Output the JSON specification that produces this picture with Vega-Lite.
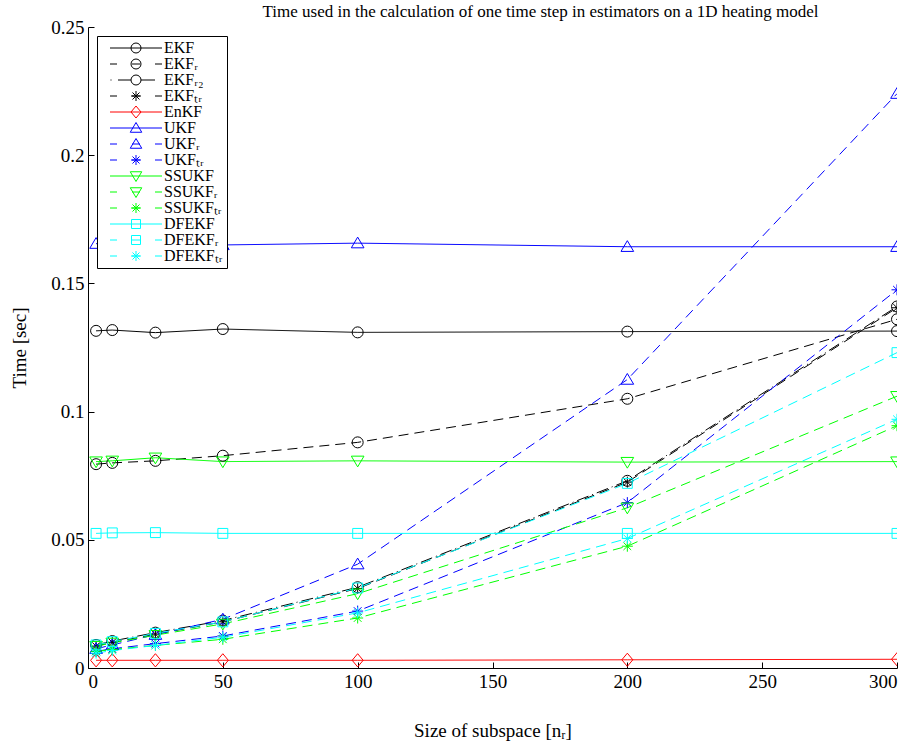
{
  "$schema": "https://vega.github.io/schema/vega-lite/v6.json",
  "autosize": "none",
  "width": 809,
  "height": 641,
  "padding": {"left": 88, "top": 27, "right": 15, "bottom": 74},
  "background": "white",
  "title": {
    "text": "Time used in the calculation of one time step in estimators on a 1D heating model",
    "font": "Liberation Serif",
    "fontSize": 17,
    "fontWeight": "normal",
    "color": "black",
    "anchor": "middle",
    "dx": 48,
    "offset": -3
  },
  "config": {
    "view": {"stroke": "transparent"},
    "axis": {
      "grid": false,
      "labelFont": "Liberation Serif",
      "labelFontSize": 19,
      "labelColor": "black",
      "titleFont": "Liberation Serif",
      "titleFontSize": 19,
      "titleFontWeight": "normal",
      "titleColor": "black",
      "domainColor": "black",
      "tickColor": "black",
      "tickSize": -6,
      "labelPadding": 10
    },
    "legend": {
      "symbolOpacity": 1,
      "symbolStrokeWidth": 1,
      "symbolSize": 100,
      "symbolOffset": 27,
      "labelOffset": 20,
      "labelFont": "Liberation Serif",
      "labelFontSize": 16,
      "labelColor": "black",
      "strokeColor": "black",
      "fillColor": "white",
      "padding": 4,
      "rowPadding": 0,
      "orient": "top-left",
      "offset": 9,
      "cornerRadius": 0
    }
  },
  "data": {
    "values": [
      {"series": "EKF", "x": 3, "y": 0.1315}, {"series": "EKF", "x": 9, "y": 0.1318}, {"series": "EKF", "x": 25, "y": 0.1308}, {"series": "EKF", "x": 50, "y": 0.1322}, {"series": "EKF", "x": 100, "y": 0.1309}, {"series": "EKF", "x": 200, "y": 0.1312}, {"series": "EKF", "x": 300, "y": 0.1314},
      {"series": "EKFᵣ", "x": 3, "y": 0.0795}, {"series": "EKFᵣ", "x": 9, "y": 0.0800}, {"series": "EKFᵣ", "x": 25, "y": 0.0808}, {"series": "EKFᵣ", "x": 50, "y": 0.0828}, {"series": "EKFᵣ", "x": 100, "y": 0.0880}, {"series": "EKFᵣ", "x": 200, "y": 0.1050}, {"series": "EKFᵣ", "x": 300, "y": 0.1360},
      {"series": "EKFᵣ₂", "x": 3, "y": 0.0090}, {"series": "EKFᵣ₂", "x": 9, "y": 0.0105}, {"series": "EKFᵣ₂", "x": 25, "y": 0.0138}, {"series": "EKFᵣ₂", "x": 50, "y": 0.0185}, {"series": "EKFᵣ₂", "x": 100, "y": 0.0315}, {"series": "EKFᵣ₂", "x": 200, "y": 0.0730}, {"series": "EKFᵣ₂", "x": 300, "y": 0.1410},
      {"series": "EKFₜᵣ", "x": 3, "y": 0.0085}, {"series": "EKFₜᵣ", "x": 9, "y": 0.0100}, {"series": "EKFₜᵣ", "x": 25, "y": 0.0132}, {"series": "EKFₜᵣ", "x": 50, "y": 0.0180}, {"series": "EKFₜᵣ", "x": 100, "y": 0.0310}, {"series": "EKFₜᵣ", "x": 200, "y": 0.0725}, {"series": "EKFₜᵣ", "x": 300, "y": 0.1405},
      {"series": "EnKF", "x": 3, "y": 0.0030}, {"series": "EnKF", "x": 9, "y": 0.0030}, {"series": "EnKF", "x": 25, "y": 0.0030}, {"series": "EnKF", "x": 50, "y": 0.0030}, {"series": "EnKF", "x": 100, "y": 0.0030}, {"series": "EnKF", "x": 200, "y": 0.0032}, {"series": "EnKF", "x": 300, "y": 0.0034},
      {"series": "UKF", "x": 3, "y": 0.1655}, {"series": "UKF", "x": 9, "y": 0.1656}, {"series": "UKF", "x": 25, "y": 0.1652}, {"series": "UKF", "x": 50, "y": 0.1650}, {"series": "UKF", "x": 100, "y": 0.1657}, {"series": "UKF", "x": 200, "y": 0.1643}, {"series": "UKF", "x": 300, "y": 0.1643},
      {"series": "UKFᵣ", "x": 3, "y": 0.0075}, {"series": "UKFᵣ", "x": 9, "y": 0.0090}, {"series": "UKFᵣ", "x": 25, "y": 0.0130}, {"series": "UKFᵣ", "x": 50, "y": 0.0190}, {"series": "UKFᵣ", "x": 100, "y": 0.0405}, {"series": "UKFᵣ", "x": 200, "y": 0.1125}, {"series": "UKFᵣ", "x": 300, "y": 0.2240},
      {"series": "UKFₜᵣ", "x": 3, "y": 0.0065}, {"series": "UKFₜᵣ", "x": 9, "y": 0.0075}, {"series": "UKFₜᵣ", "x": 25, "y": 0.0095}, {"series": "UKFₜᵣ", "x": 50, "y": 0.0125}, {"series": "UKFₜᵣ", "x": 100, "y": 0.0222}, {"series": "UKFₜᵣ", "x": 200, "y": 0.0645}, {"series": "UKFₜᵣ", "x": 300, "y": 0.1475},
      {"series": "SSUKF", "x": 3, "y": 0.0805}, {"series": "SSUKF", "x": 9, "y": 0.0808}, {"series": "SSUKF", "x": 25, "y": 0.0820}, {"series": "SSUKF", "x": 50, "y": 0.0805}, {"series": "SSUKF", "x": 100, "y": 0.0808}, {"series": "SSUKF", "x": 200, "y": 0.0803}, {"series": "SSUKF", "x": 300, "y": 0.0805},
      {"series": "SSUKFᵣ", "x": 3, "y": 0.0085}, {"series": "SSUKFᵣ", "x": 9, "y": 0.0098}, {"series": "SSUKFᵣ", "x": 25, "y": 0.0128}, {"series": "SSUKFᵣ", "x": 50, "y": 0.0172}, {"series": "SSUKFᵣ", "x": 100, "y": 0.0290}, {"series": "SSUKFᵣ", "x": 200, "y": 0.0625}, {"series": "SSUKFᵣ", "x": 300, "y": 0.1060},
      {"series": "SSUKFₜᵣ", "x": 3, "y": 0.0065}, {"series": "SSUKFₜᵣ", "x": 9, "y": 0.0072}, {"series": "SSUKFₜᵣ", "x": 25, "y": 0.0088}, {"series": "SSUKFₜᵣ", "x": 50, "y": 0.0112}, {"series": "SSUKFₜᵣ", "x": 100, "y": 0.0195}, {"series": "SSUKFₜᵣ", "x": 200, "y": 0.0475}, {"series": "SSUKFₜᵣ", "x": 300, "y": 0.0945},
      {"series": "DFEKF", "x": 3, "y": 0.0525}, {"series": "DFEKF", "x": 9, "y": 0.0527}, {"series": "DFEKF", "x": 25, "y": 0.0528}, {"series": "DFEKF", "x": 50, "y": 0.0525}, {"series": "DFEKF", "x": 100, "y": 0.0525}, {"series": "DFEKF", "x": 200, "y": 0.0525}, {"series": "DFEKF", "x": 300, "y": 0.0525},
      {"series": "DFEKFᵣ", "x": 3, "y": 0.0090}, {"series": "DFEKFᵣ", "x": 9, "y": 0.0103}, {"series": "DFEKFᵣ", "x": 25, "y": 0.0135}, {"series": "DFEKFᵣ", "x": 50, "y": 0.0180}, {"series": "DFEKFᵣ", "x": 100, "y": 0.0312}, {"series": "DFEKFᵣ", "x": 200, "y": 0.0720}, {"series": "DFEKFᵣ", "x": 300, "y": 0.1230},
      {"series": "DFEKFₜᵣ", "x": 3, "y": 0.0058}, {"series": "DFEKFₜᵣ", "x": 9, "y": 0.0068}, {"series": "DFEKFₜᵣ", "x": 25, "y": 0.0088}, {"series": "DFEKFₜᵣ", "x": 50, "y": 0.0120}, {"series": "DFEKFₜᵣ", "x": 100, "y": 0.0215}, {"series": "DFEKFₜᵣ", "x": 200, "y": 0.0505}, {"series": "DFEKFₜᵣ", "x": 300, "y": 0.0970}
    ]
  },
  "layer": [
    {
      "mark": {"type": "line", "strokeWidth": 1, "clip": true},
      "encoding": {
        "x": {"field": "x", "type": "quantitative", "scale": {"domain": [0, 300], "nice": false, "zero": false},
              "axis": {"values": [0, 50, 100, 150, 200, 250, 300], "title": "Size of subspace [nᵣ]", "titlePadding": 30, "orient": "bottom"}},
        "y": {"field": "y", "type": "quantitative", "scale": {"domain": [0, 0.25], "nice": false},
              "axis": {"values": [0, 0.05, 0.1, 0.15, 0.2, 0.25], "format": "~g", "title": "Time [sec]", "titlePadding": 21, "orient": "left"}},
        "detail": {"field": "series"},
        "color": {"field": "series", "type": "nominal", "legend": null,
                  "scale": {"domain": ["EKF", "EKFᵣ", "EKFᵣ₂", "EKFₜᵣ", "EnKF", "UKF", "UKFᵣ", "UKFₜᵣ", "SSUKF", "SSUKFᵣ", "SSUKFₜᵣ", "DFEKF", "DFEKFᵣ", "DFEKFₜᵣ"],
                            "range": ["#000000", "#000000", "#000000", "#000000", "#ff0000", "#0000ff", "#0000ff", "#0000ff", "#00ff00", "#00ff00", "#00ff00", "#00ffff", "#00ffff", "#00ffff"]}},
        "strokeDash": {"field": "series", "type": "nominal", "legend": null,
                  "scale": {"domain": ["EKF", "EKFᵣ", "EKFᵣ₂", "EKFₜᵣ", "EnKF", "UKF", "UKFᵣ", "UKFₜᵣ", "SSUKF", "SSUKFᵣ", "SSUKFₜᵣ", "DFEKF", "DFEKFᵣ", "DFEKFₜᵣ"],
                            "range": [[1, 0], [10, 6], [12, 4, 1, 4], [10, 6], [1, 0], [1, 0], [10, 6], [10, 6], [1, 0], [10, 6], [10, 6], [1, 0], [10, 6], [10, 6]]}}
      }
    },
    {
      "mark": {"type": "point", "filled": false, "strokeWidth": 1, "size": 121, "opacity": 1, "clip": true},
      "encoding": {
        "x": {"field": "x", "type": "quantitative", "axis": {"orient": "top", "labels": false, "ticks": false, "domain": false, "title": null}},
        "y": {"field": "y", "type": "quantitative", "axis": {"orient": "right", "labels": false, "ticks": false, "domain": false, "title": null}},
        "color": {"field": "series", "type": "nominal", "legend": null,
                  "scale": {"domain": ["EKF", "EKFᵣ", "EKFᵣ₂", "EKFₜᵣ", "EnKF", "UKF", "UKFᵣ", "UKFₜᵣ", "SSUKF", "SSUKFᵣ", "SSUKFₜᵣ", "DFEKF", "DFEKFᵣ", "DFEKFₜᵣ"],
                            "range": ["#000000", "#000000", "#000000", "#000000", "#ff0000", "#0000ff", "#0000ff", "#0000ff", "#00ff00", "#00ff00", "#00ff00", "#00ffff", "#00ffff", "#00ffff"]}},
        "shape": {"field": "series", "type": "nominal", "legend": null,
                  "scale": {"domain": ["EKF", "EKFᵣ", "EKFᵣ₂", "EKFₜᵣ", "EnKF", "UKF", "UKFᵣ", "UKFₜᵣ", "SSUKF", "SSUKFᵣ", "SSUKFₜᵣ", "DFEKF", "DFEKFᵣ", "DFEKFₜᵣ"],
                            "range": [
                              "M1,0A1,1,0,1,1,-1,0A1,1,0,1,1,1,0",
                              "M1,0A1,1,0,1,1,-1,0A1,1,0,1,1,1,0",
                              "M1,0A1,1,0,1,1,-1,0A1,1,0,1,1,1,0",
                              "M0,-1L0,1M-1,0L1,0M-0.7,-0.7L0.7,0.7M-0.7,0.7L0.7,-0.7",
                              "M0,-1.2L1,0L0,1.2L-1,0Z",
                              "M0,-1.1L1.15,0.85L-1.15,0.85Z",
                              "M0,-1.1L1.15,0.85L-1.15,0.85Z",
                              "M0,-1L0,1M-1,0L1,0M-0.7,-0.7L0.7,0.7M-0.7,0.7L0.7,-0.7",
                              "M0,1.1L1.15,-0.85L-1.15,-0.85Z",
                              "M0,1.1L1.15,-0.85L-1.15,-0.85Z",
                              "M0,-1L0,1M-1,0L1,0M-0.7,-0.7L0.7,0.7M-0.7,0.7L0.7,-0.7",
                              "M-0.9,-0.9L0.9,-0.9L0.9,0.9L-0.9,0.9Z",
                              "M-0.9,-0.9L0.9,-0.9L0.9,0.9L-0.9,0.9Z",
                              "M0,-1L0,1M-1,0L1,0M-0.7,-0.7L0.7,0.7M-0.7,0.7L0.7,-0.7"
                            ]}}
      }
    },
    {
      "mark": {"type": "point", "filled": false, "strokeWidth": 1, "opacity": 0, "clip": true},
      "encoding": {
        "x": {"field": "x", "type": "quantitative", "axis": null},
        "y": {"field": "y", "type": "quantitative", "axis": null},
        "color": {"field": "series", "type": "nominal", "legend": {"title": null},
                  "scale": {"domain": ["EKF", "EKFᵣ", "EKFᵣ₂", "EKFₜᵣ", "EnKF", "UKF", "UKFᵣ", "UKFₜᵣ", "SSUKF", "SSUKFᵣ", "SSUKFₜᵣ", "DFEKF", "DFEKFᵣ", "DFEKFₜᵣ"],
                            "range": ["#000000", "#000000", "#000000", "#000000", "#ff0000", "#0000ff", "#0000ff", "#0000ff", "#00ff00", "#00ff00", "#00ff00", "#00ffff", "#00ffff", "#00ffff"]}},
        "shape": {"field": "series", "type": "nominal", "legend": {"title": null},
                  "scale": {"domain": ["EKF", "EKFᵣ", "EKFᵣ₂", "EKFₜᵣ", "EnKF", "UKF", "UKFᵣ", "UKFₜᵣ", "SSUKF", "SSUKFᵣ", "SSUKFₜᵣ", "DFEKF", "DFEKFᵣ", "DFEKFₜᵣ"],
                            "range": [
                              "M-5.2,0L5.2,0M1,0A1,1,0,1,1,-1,0A1,1,0,1,1,1,0",
                              "M-5.2,0L-3.8,0M-0.8,0L0.8,0M3.8,0L5.2,0M1,0A1,1,0,1,1,-1,0A1,1,0,1,1,1,0",
                              "M-5.1,0L-4.9,0M-3.6,0L-1,0M1,0L3.8,0M1,0A1,1,0,1,1,-1,0A1,1,0,1,1,1,0",
                              "M-5.2,0L-3.8,0M-0.8,0L0.8,0M3.8,0L5.2,0M0,-1L0,1M-1,0L1,0M-0.7,-0.7L0.7,0.7M-0.7,0.7L0.7,-0.7",
                              "M-5.2,0L5.2,0M0,-1.2L1,0L0,1.2L-1,0Z",
                              "M-5.2,0L5.2,0M0,-1.1L1.15,0.85L-1.15,0.85Z",
                              "M-5.2,0L-3.8,0M-0.8,0L0.8,0M3.8,0L5.2,0M0,-1.1L1.15,0.85L-1.15,0.85Z",
                              "M-5.2,0L-3.8,0M-0.8,0L0.8,0M3.8,0L5.2,0M0,-1L0,1M-1,0L1,0M-0.7,-0.7L0.7,0.7M-0.7,0.7L0.7,-0.7",
                              "M-5.2,0L5.2,0M0,1.1L1.15,-0.85L-1.15,-0.85Z",
                              "M-5.2,0L-3.8,0M-0.8,0L0.8,0M3.8,0L5.2,0M0,1.1L1.15,-0.85L-1.15,-0.85Z",
                              "M-5.2,0L-3.8,0M-0.8,0L0.8,0M3.8,0L5.2,0M0,-1L0,1M-1,0L1,0M-0.7,-0.7L0.7,0.7M-0.7,0.7L0.7,-0.7",
                              "M-5.2,0L5.2,0M-0.9,-0.9L0.9,-0.9L0.9,0.9L-0.9,0.9Z",
                              "M-5.2,0L-3.8,0M-0.8,0L0.8,0M3.8,0L5.2,0M-0.9,-0.9L0.9,-0.9L0.9,0.9L-0.9,0.9Z",
                              "M-5.2,0L-3.8,0M-0.8,0L0.8,0M3.8,0L5.2,0M0,-1L0,1M-1,0L1,0M-0.7,-0.7L0.7,0.7M-0.7,0.7L0.7,-0.7"
                            ]}}
      }
    }
  ],
  "resolve": {"scale": {"shape": "independent", "color": "independent"}}
}
